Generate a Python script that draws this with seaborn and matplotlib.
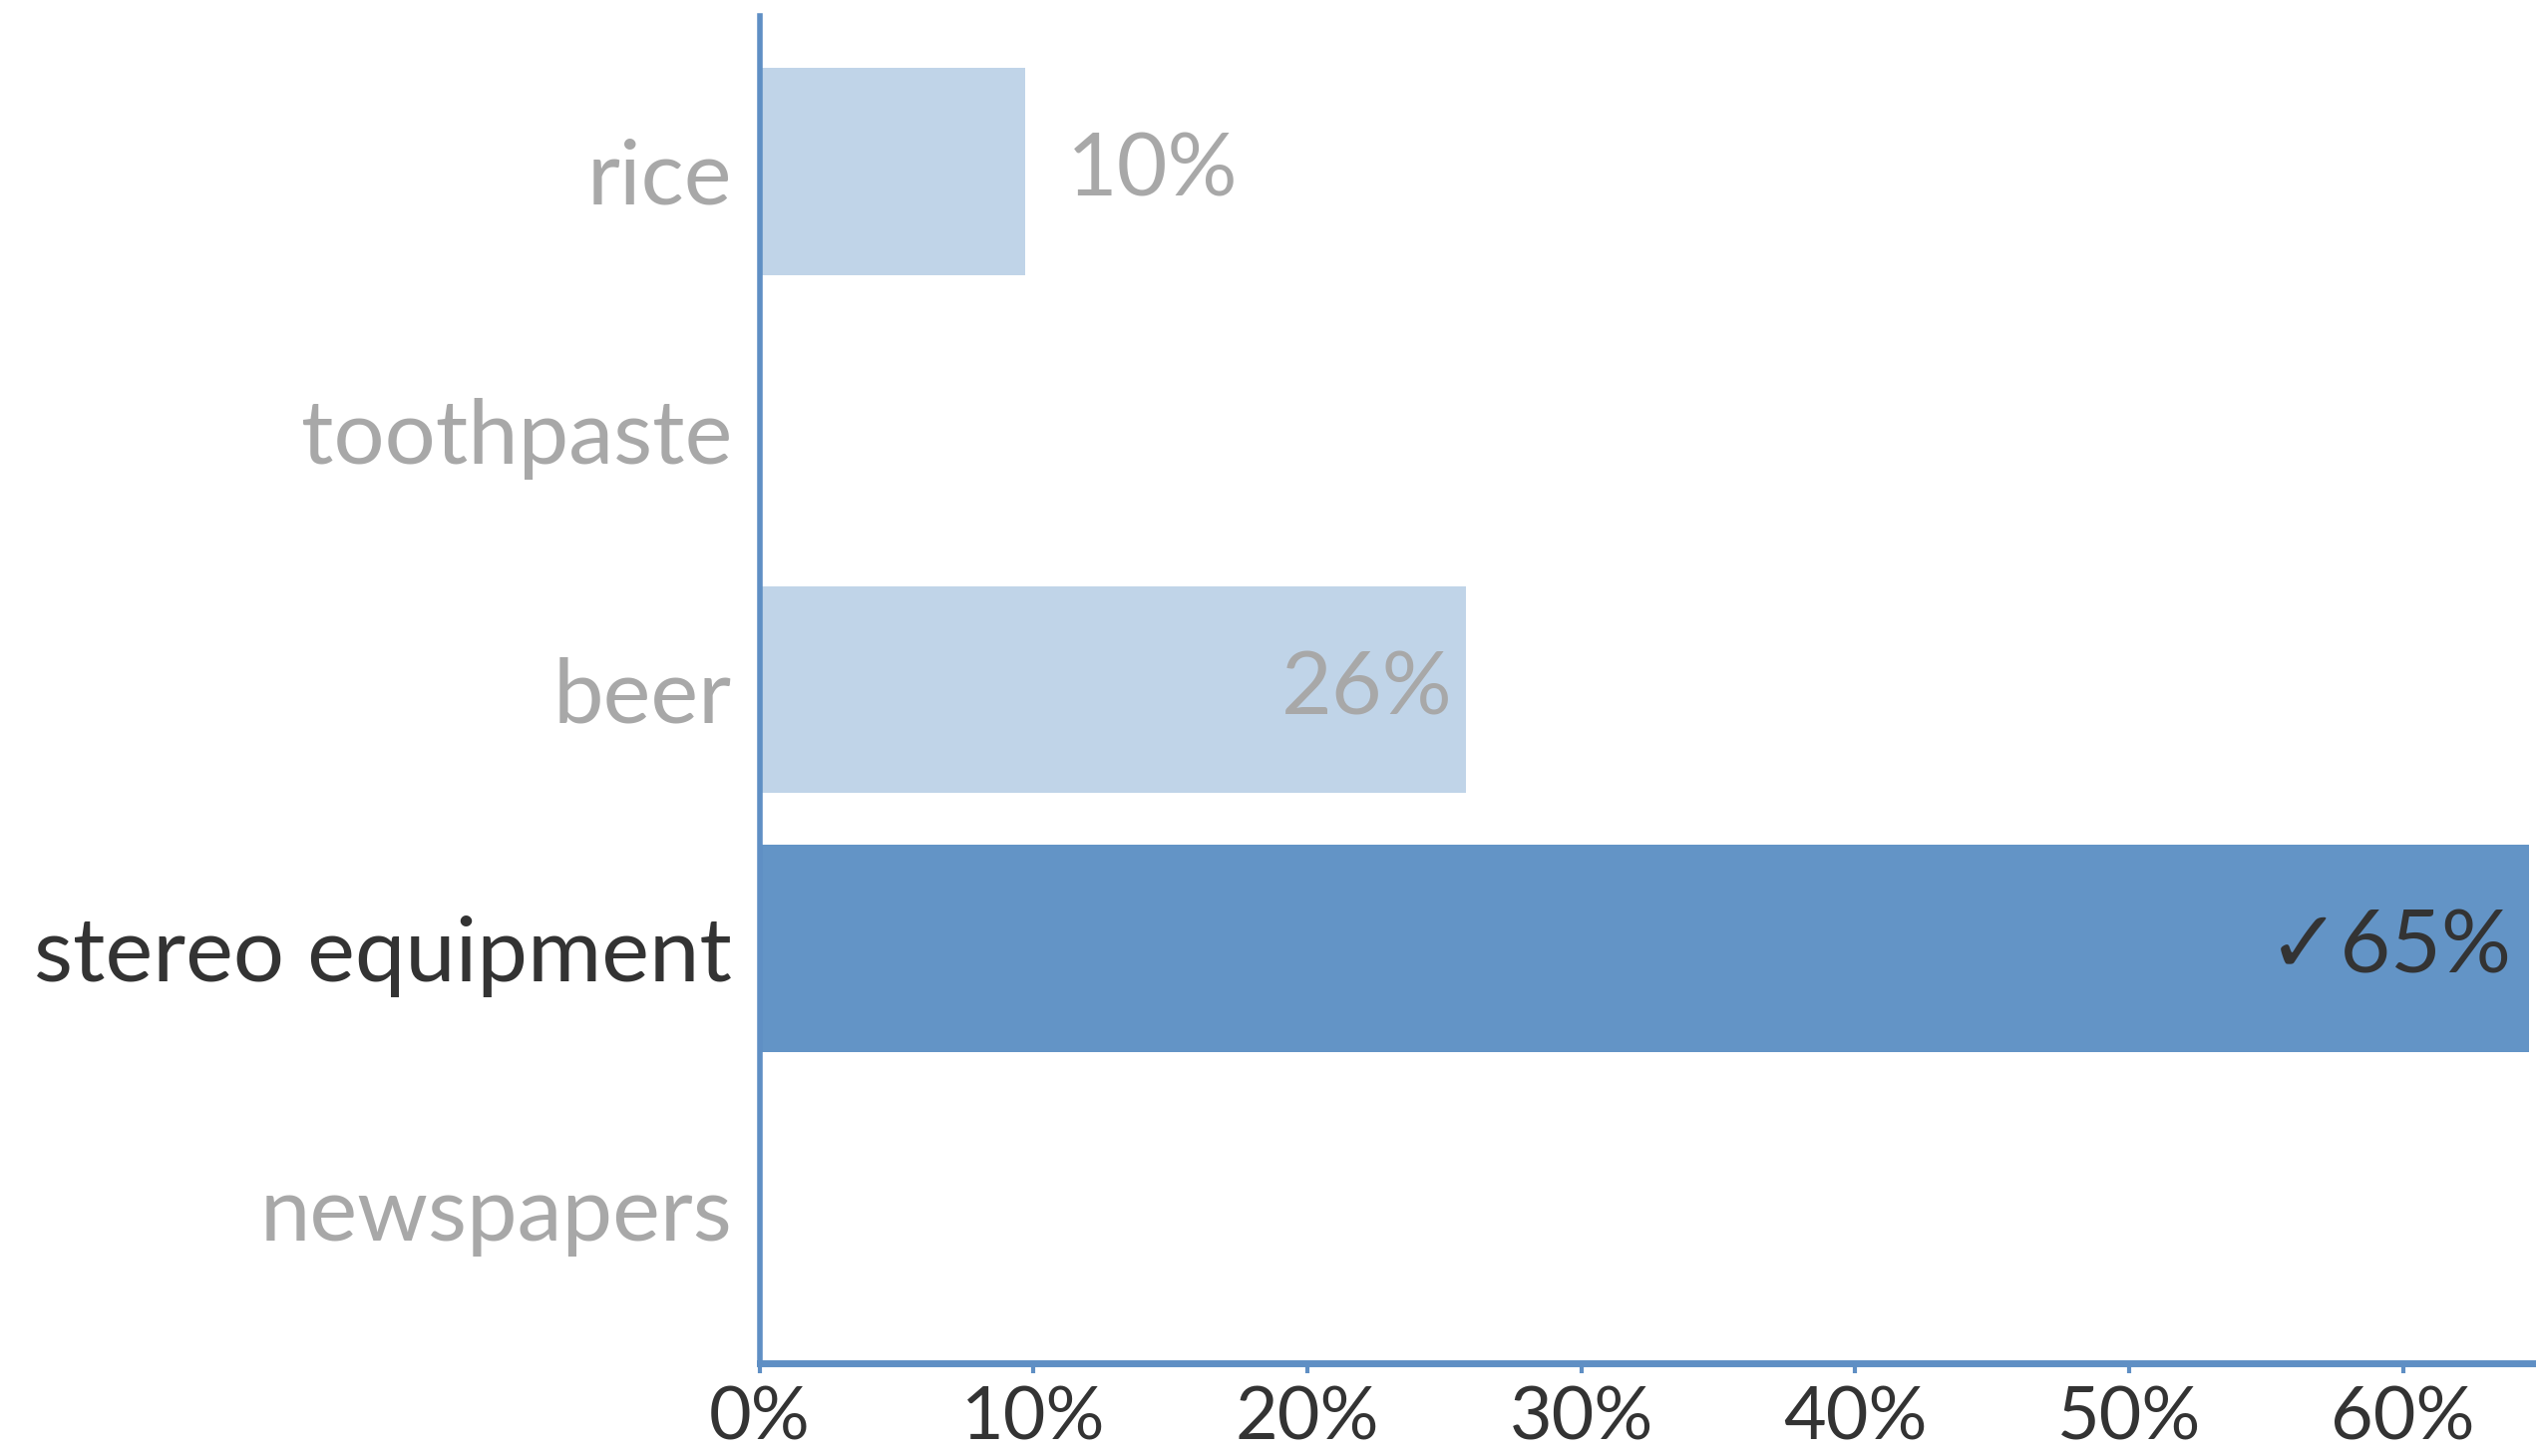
import matplotlib
matplotlib.use("Agg")
import matplotlib.pyplot as plt
import seaborn as sns
import pandas as pd

# Share of answers per item
categories = ["rice", "toothpaste", "beer", "stereo equipment", "newspapers"]
shares = [9.7, 0.0, 25.8, 64.6, 0.0]
correct = "stereo equipment"
x_ticks = [0, 10, 20, 30, 40, 50, 60]
x_tick_labels = ["0%", "10%", "20%", "30%", "40%", "50%", "60%"]

light_blue = "#c0d4e8"
strong_blue = "#6394c6"
spine_blue = "#5f8fc4"
muted_text = "#a8a8a8"
dark_text = "#333333"

sns.set_theme(style="white")
plt.rcParams["font.family"] = ["Lato", "DejaVu Sans"]

df = pd.DataFrame({"item": categories, "share": shares})
palette = {c: (strong_blue if c == correct else light_blue) for c in categories}

fig = plt.figure(figsize=(25.43, 14.6), dpi=100)
ax = fig.add_axes([0.2996, 0.0637, 0.9988 - 0.2996, 0.989 - 0.0637])

sns.barplot(data=df, x="share", y="item", hue="item", palette=palette,
            order=categories, orient="h", width=0.8, legend=False,
            saturation=1, ax=ax, linewidth=0)

ax.set_xlim(0, 64.75)
ax.set_ylim(4.6, -0.6)
ax.set_xticks(x_ticks)
ax.set_xticklabels(x_tick_labels)
ax.set_xlabel("")
ax.set_ylabel("")

for side in ["top", "right"]:
    ax.spines[side].set_visible(False)
ax.spines["left"].set_color(spine_blue)
ax.spines["left"].set_linewidth(4.0)
ax.spines["bottom"].set_color(spine_blue)
ax.spines["bottom"].set_linewidth(5.0)

ax.tick_params(axis="x", length=7, width=3, color=spine_blue, pad=9,
               labelsize=53, labelcolor=dark_text, bottom=True, direction="out")
ax.tick_params(axis="y", length=0, pad=20, labelsize=65)
for lab in ax.get_yticklabels():
    lab.set_color(dark_text if lab.get_text() == correct else muted_text)

# Value labels on the bars
for i, (item, val) in enumerate(zip(categories, shares)):
    if val <= 0:
        continue
    text = f"{val:.0f}%"
    if item == correct:
        ax.annotate("\u2713" + text, xy=(val, i), xytext=(-12, 0),
                    textcoords="offset points", ha="right", va="center",
                    fontsize=63, color=dark_text)
    elif val < 15:
        ax.annotate(text, xy=(val, i), xytext=(30, 0),
                    textcoords="offset points", ha="left", va="center",
                    fontsize=63, color=muted_text)
    else:
        ax.annotate(text, xy=(val, i), xytext=(-10, 0),
                    textcoords="offset points", ha="right", va="center",
                    fontsize=63, color=muted_text)

fig.savefig("out.png", dpi=100, facecolor="white")
